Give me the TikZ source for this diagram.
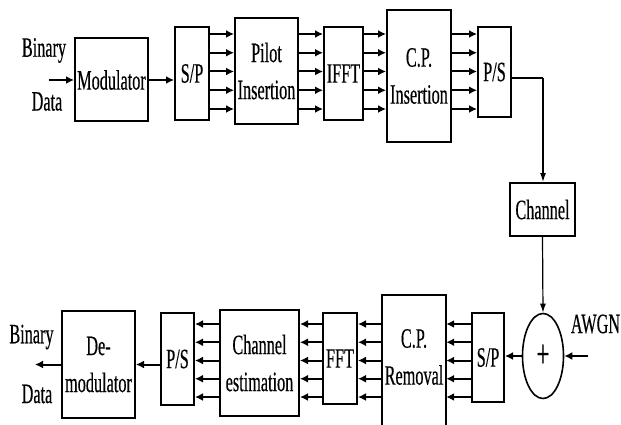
\documentclass[tikz,border=0pt]{standalone}
\usepackage{fontspec}
\newfontfamily\blockfont[FakeStretch=0.58,FakeBold=0.4]{Liberation Serif}
\usetikzlibrary{shapes.geometric,arrows.meta}

\begin{document}
\begin{tikzpicture}[x=1pt, y=-1pt,
    every node/.style={font=\blockfont\fontsize{28}{37}\selectfont},
    block/.style={rectangle, draw, line width=2pt, inner sep=0pt, align=center},
    adder/.style={ellipse, draw, line width=1.6pt, inner sep=0pt, minimum width=41pt, minimum height=85pt},
    sig/.style={draw, ->, >={Latex[length=8pt,width=8pt]}, line width=2pt},
    wire/.style={draw, ->, >={Latex[length=9pt,width=6pt]}, line width=1.2pt}]

    \clip (0,0) rectangle (621,425);

    % Transmitter
    \node [block, minimum width=73pt, minimum height=83pt] (mod) at (111.5,80) {Modulator};
    \node [block, minimum width=34pt, minimum height=93pt] (sp) at (192,73.5) {S/P};
    \node [block, minimum width=63pt, minimum height=106pt] (pilot) at (266.5,71) {Pilot\\Insertion};
    \node [block, minimum width=39pt, minimum height=93pt] (ifft) at (343.5,73.5) {IFFT};
    \node [block, minimum width=64pt, minimum height=132pt] (cpins) at (419,76) {C.P.\\Insertion};
    \node [block, minimum width=33pt, minimum height=90pt] (ps) at (494.5,72) {P/S};

    \node (txbin) at (44,50.5) {Binary};
    \node (txdata) at (47,101.5) {Data};
    \coordinate (txin) at (49,80);

    % Channel
    \node [block, minimum width=65pt, minimum height=53pt] (chan) at (542.5,209.5) {Channel};
    \node [adder, font=\blockfont\fontsize{40}{40}\selectfont] (sum) at (543,356) {+};
    \node (awgn) at (595.5,324) {AWGN};
    \coordinate (noise) at (588,356);
    \coordinate (bend) at (543,78);

    % Receiver
    \node [block, minimum width=32pt, minimum height=89pt] (sprx) at (488,357.5) {S/P};
    \node [inner sep=0pt, align=center, minimum width=64pt, minimum height=124pt] (cprem) at (414,357) {C.P.\\Removal};
    \node [block, minimum width=34pt, minimum height=91pt] (fft) at (340,358.5) {FFT};
    \node [block, minimum width=79pt, minimum height=106pt] (est) at (259.5,363) {Channel\\estimation};
    \node [block, minimum width=33pt, minimum height=92pt] (psrx) at (177.5,359) {P/S};
    \node [block, minimum width=73pt, minimum height=107pt] (demod) at (98.5,364.5) {De-\\modulator};

    \node (rxbin) at (31.5,337) {Binary};
    \node (rxdata) at (37,394) {Data};
    \coordinate (rxout) at (35,366);

    % open box, cut by the page edge
    \draw [line width=2pt] ([yshift=-20pt]cprem.south west) -- (cprem.north west) -- (cprem.north east) -- ([yshift=-20pt]cprem.south east);

    % Connections
    \draw [sig] (txin) -- (txin -| mod.west);
    \draw [sig] (mod.east) -- (mod.east -| sp.west);
    \foreach \y in {34,52.75,71.5,90.25,109} {
        \draw [sig] (sp.east |- 0,\y) -- (pilot.west |- 0,\y);
        \draw [sig] (pilot.east |- 0,\y) -- (ifft.west |- 0,\y);
        \draw [sig] (ifft.east |- 0,\y) -- (cpins.west |- 0,\y);
        \draw [sig] (cpins.east |- 0,\y) -- (ps.west |- 0,\y);
    }
    \draw [line width=2pt] (ps.east |- bend) -- (bend);
    \draw [wire] (bend) -- (bend |- chan.north);
    \draw [wire] (chan.south) -- (sum.north);
    \draw [sig] (noise) -- (sum.east);
    \draw [sig] (sum.west) -- (sum.west -| sprx.east);
    \foreach \y in {324,342.25,360.5,378.75,397} {
        \draw [sig] (sprx.west |- 0,\y) -- (cprem.east |- 0,\y);
        \draw [sig] (cprem.west |- 0,\y) -- (fft.east |- 0,\y);
        \draw [sig] (fft.west |- 0,\y) -- (est.east |- 0,\y);
        \draw [sig] (est.west |- 0,\y) -- (psrx.east |- 0,\y);
    }
    \draw [sig] (psrx.west |- demod.east) -- (demod.east);
    \draw [sig] (demod.west) -- (rxout |- demod.west);

\end{tikzpicture}
\end{document}
